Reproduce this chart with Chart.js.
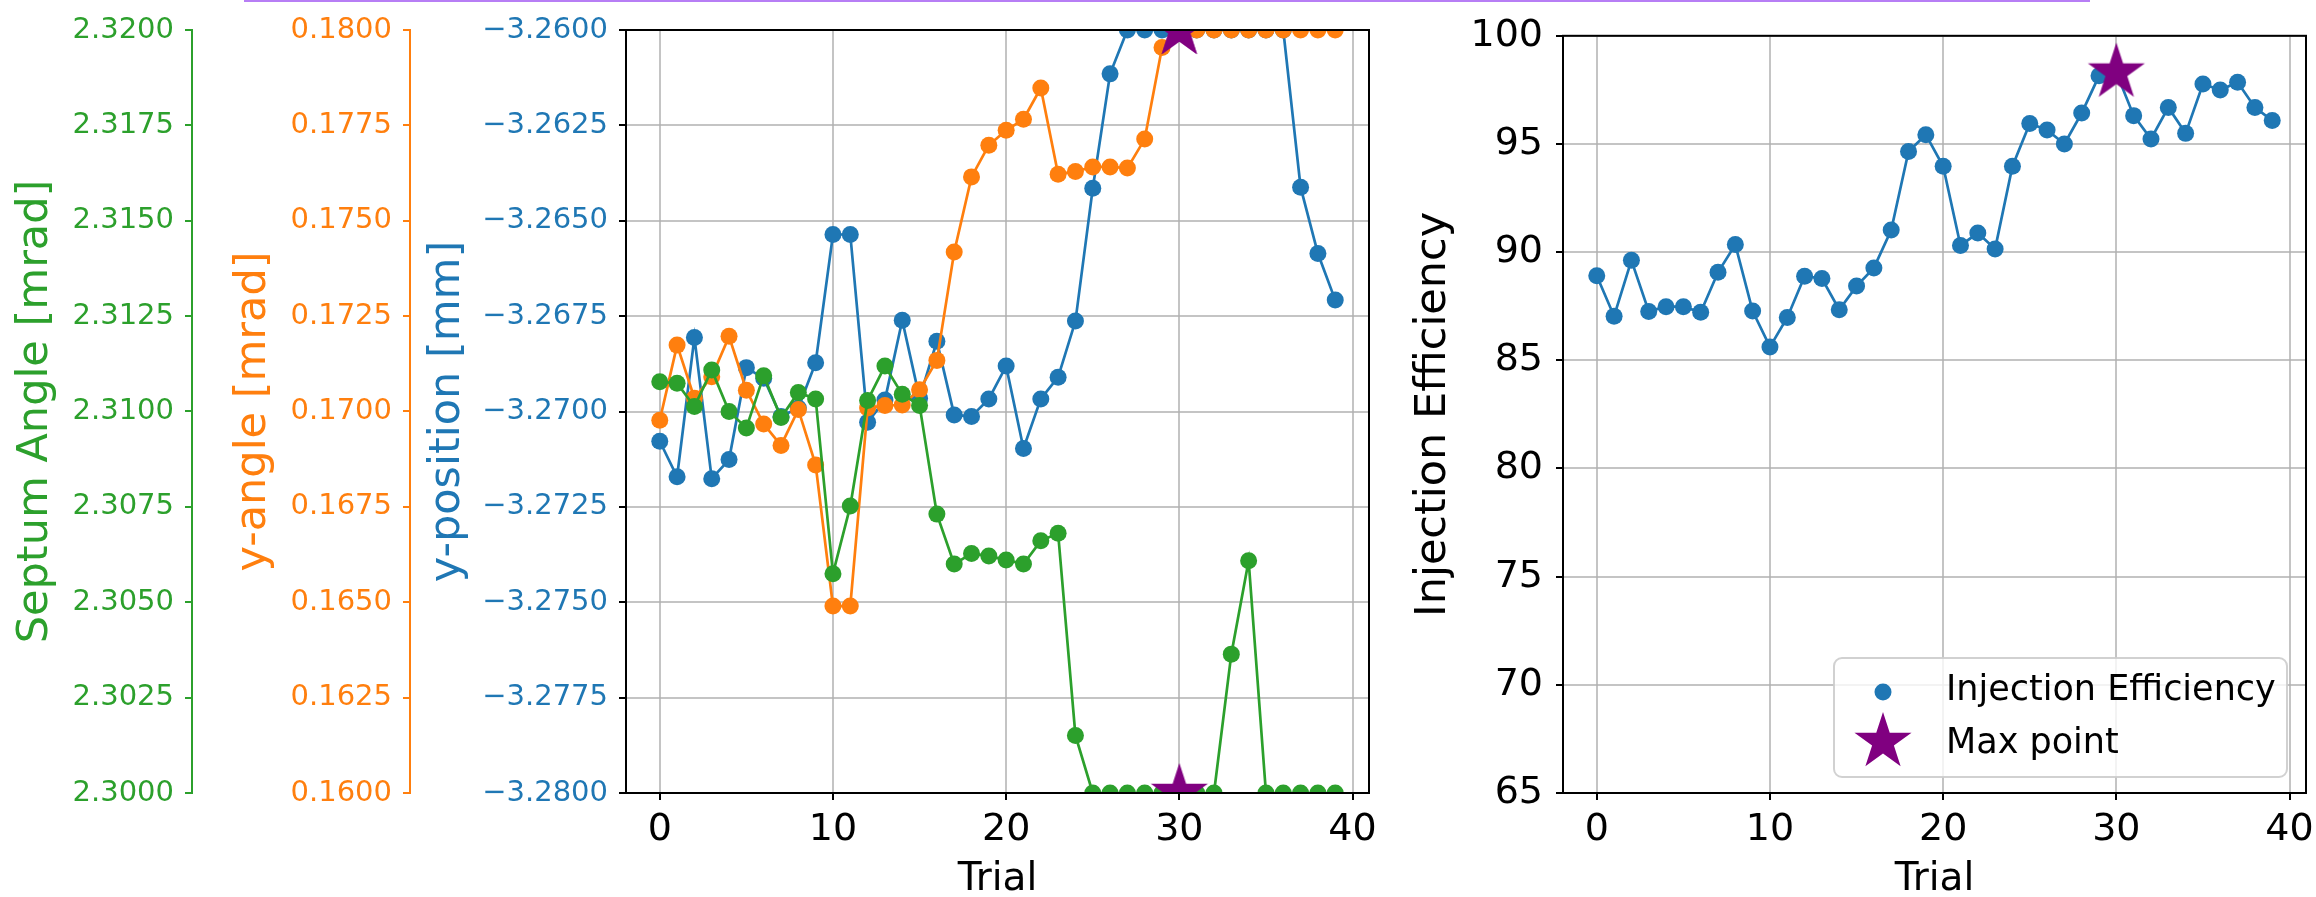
<!DOCTYPE html>
<html>
<head>
<meta charset="utf-8">
<script src="https://cdn.jsdelivr.net/npm/chart.js@4.4.0/dist/chart.umd.min.js"></script>
<style>
  html, body { margin: 0; padding: 0; background: #fff; }
  body { width: 2316px; height: 897px; overflow: hidden; position: relative; }
  #leftChart { position: absolute; left: 0; top: 0; }
  #rightChart { position: absolute; left: 1380px; top: 0; }
  #topLine { position: absolute; left: 244px; top: 0; width: 1846px; height: 2px; background: #b77ef5; }
</style>
</head>
<body>
<canvas id="leftChart" width="1400" height="910"></canvas>
<canvas id="rightChart" width="956" height="910"></canvas>
<div id="topLine"></div>
<script>
// --- values ---
const trials = [0, 1, 2, 3, 4, 5, 6, 7, 8, 9, 10, 11, 12, 13, 14, 15, 16, 17, 18, 19,
                20, 21, 22, 23, 24, 25, 26, 27, 28, 29, 30, 31, 32, 33, 34, 35, 36, 37, 38, 39];

const yPosition = [-3.27078, -3.27171, -3.26806, -3.27176, -3.27126, -3.26885, -3.26913, -3.27013, -3.26991, -3.26872,
                   -3.26536, -3.26536, -3.27028, -3.26970, -3.26761, -3.26965, -3.26816, -3.27009, -3.27013, -3.26967,
                   -3.26881, -3.27097, -3.26967, -3.26910, -3.26763, -3.26415, -3.26115, -3.26, -3.26, -3.26,
                   -3.26, -3.26, -3.26, -3.26, -3.26, -3.26, -3.26, -3.26412, -3.26586, -3.26708];

const yAngle = [0.16977, 0.17174, 0.17035, 0.17091, 0.17197, 0.17056, 0.16967, 0.16911, 0.17005, 0.16860,
                0.16490, 0.16490, 0.17009, 0.17016, 0.17017, 0.17057, 0.17134, 0.17418, 0.17615, 0.17698,
                0.17737, 0.17766, 0.17848, 0.17622, 0.17629, 0.17641, 0.17641, 0.17638, 0.17714, 0.17954,
                0.18, 0.18, 0.18, 0.18, 0.18, 0.18, 0.18, 0.18, 0.18, 0.18];

const septumAngle = [2.31078, 2.31074, 2.31013, 2.31109, 2.31000, 2.30957, 2.31094, 2.30984, 2.31050, 2.31033,
                     2.30575, 2.30752, 2.31029, 2.31119, 2.31045, 2.31016, 2.30731, 2.30600, 2.30628, 2.30621,
                     2.30611, 2.30600, 2.30661, 2.30681, 2.30151, 2.30, 2.30, 2.30, 2.30, 2.30,
                     2.30, 2.30, 2.30, 2.30364, 2.30609, 2.30, 2.30, 2.30, 2.30, 2.30];

const injEfficiency = [88.91, 87.04, 89.62, 87.26, 87.48, 87.48, 87.22, 89.07, 90.35, 87.28,
                       85.62, 86.98, 88.89, 88.78, 87.34, 88.43, 89.27, 91.02, 94.65, 95.43,
                       93.97, 90.31, 90.88, 90.15, 93.97, 95.95, 95.65, 95.00, 96.43, 98.15,
                       98.30, 96.31, 95.23, 96.69, 95.49, 97.77, 97.49, 97.85, 96.69, 96.08];

// best trial
const maxTrial = 30;
const maxPosition = -3.26;
const maxAngle = 0.18;
const maxSeptum = 2.30;
const maxEfficiency = 98.3;

const trialTicks = [0, 10, 20, 30, 40];
const positionTicks = [-3.28, -3.2775, -3.275, -3.2725, -3.27, -3.2675, -3.265, -3.2625, -3.26];
const angleTicks = [0.16, 0.1625, 0.165, 0.1675, 0.17, 0.1725, 0.175, 0.1775, 0.18];
const septumTicks = [2.30, 2.3025, 2.305, 2.3075, 2.31, 2.3125, 2.315, 2.3175, 2.32];
const efficiencyTicks = [65, 70, 75, 80, 85, 90, 95, 100];

const legendLabels = ['Injection Efficiency', 'Max point'];

// --- styles ---
const BLUE = '#1f77b4', ORANGE = '#ff7f0e', GREEN = '#2ca02c', PURPLE = '#800080';
const GRID = 'rgba(176,176,176,0.75)';
const CANVAS_H = 910, AREA_BOTTOM = 793;

Chart.defaults.font.family = "'DejaVu Sans', sans-serif";

function pts(ys) {
    return trials.map((t, i) => ({ x: t, y: ys[i] }));
}

function fixedTicks(list) {
    return scale => { scale.ticks = list.map(v => ({ value: v })); };
}

function fmt4(v) {
    return v.toFixed(4).replace('-', '\u2212');
}

// filled 5 point star like matplotlib's '*'
function makeStar(r, color) {
    const c = document.createElement('canvas');
    const s = Math.ceil(r * 2 + 4);
    c.width = s; c.height = s;
    const g = c.getContext('2d');
    g.fillStyle = color;
    g.beginPath();
    for (let k = 0; k < 10; k++) {
        const rad = k % 2 ? r * 0.381966 : r;
        const a = -Math.PI / 2 + k * Math.PI / 5;
        const px = s / 2 + rad * Math.cos(a), py = s / 2 + rad * Math.sin(a);
        if (k) g.lineTo(px, py); else g.moveTo(px, py);
    }
    g.closePath();
    g.fill();
    return c;
}
const star = makeStar(30, PURPLE);

const frame = {
    id: 'frame',
    afterDatasetsDraw(chart) {
        const { ctx, chartArea: a } = chart;
        ctx.save();
        ctx.strokeStyle = '#000';
        ctx.lineWidth = 2;
        ctx.strokeRect(a.left, a.top, a.right - a.left, a.bottom - a.top);
        ctx.restore();
    }
};

function xScale() {
    return {
        type: 'linear', position: 'bottom', min: -1.95, max: 40.95,
        afterBuildTicks: fixedTicks(trialTicks),
        afterFit: s => { s.height = CANVAS_H - AREA_BOTTOM; },
        grid: { color: GRID, lineWidth: 2, tickColor: '#000', tickLength: 7, tickWidth: 2 },
        border: { color: '#000', width: 2 },
        ticks: { color: '#000', font: { size: 38 }, padding: 7, maxRotation: 0, autoSkip: false },
        title: { display: true, text: 'Trial', color: '#000', font: { size: 39 }, padding: { top: 0, bottom: 7 } }
    };
}

function sideAxis(color, min, max, list, title, width, titlePad, weight, onArea) {
    return {
        type: 'linear', position: 'left', min: min, max: max, weight: weight,
        afterBuildTicks: fixedTicks(list),
        afterFit: s => { s.width = width; },
        grid: {
            drawOnChartArea: onArea, color: GRID, lineWidth: 2,
            tickColor: onArea ? '#000' : color, tickLength: 7, tickWidth: 2
        },
        border: { color: onArea ? '#000' : color, width: 2 },
        ticks: { color: color, font: { size: 29 }, padding: 11, autoSkip: false, callback: v => fmt4(v) },
        title: { display: true, text: title, color: color, font: { size: 43 }, padding: { top: titlePad, bottom: 0 } }
    };
}

function line(label, ys, axis, color, order) {
    return {
        label: label, data: pts(ys), yAxisID: axis, order: order, clip: 0,
        borderColor: color, backgroundColor: color, borderWidth: 2.7,
        pointRadius: 8.5, pointBorderWidth: 0, tension: 0
    };
}

function starPoint(y, axis) {
    return {
        label: 'Max point', data: [{ x: maxTrial, y: y }], yAxisID: axis, order: 0, clip: 0,
        showLine: false, pointStyle: star, pointRadius: 30, pointBorderWidth: 0
    };
}

// --- left: parameters ---
new Chart(document.getElementById('leftChart'), {
    type: 'line',
    data: {
        datasets: [
            starPoint(maxPosition, 'yPos'),
            starPoint(maxAngle, 'yAngle'),
            starPoint(maxSeptum, 'ySeptum'),
            line('Septum Angle', septumAngle, 'ySeptum', GREEN, 1),
            line('y-angle', yAngle, 'yAngle', ORANGE, 2),
            line('y-position', yPosition, 'yPos', BLUE, 3)
        ]
    },
    options: {
        responsive: false, animation: false, events: [],
        layout: { padding: { left: 0, right: 31, top: 25, bottom: 0 } },
        plugins: { legend: { display: false }, tooltip: { enabled: false } },
        scales: {
            x: xScale(),
            yPos: sideAxis(BLUE, -3.28, -3.26, positionTicks, 'y-position [mm]', 216, 12, 1, true),
            yAngle: sideAxis(ORANGE, 0.16, 0.18, angleTicks, 'y-angle [mrad]', 218, 36, 2, false),
            ySeptum: sideAxis(GREEN, 2.30, 2.32, septumTicks, 'Septum Angle [mrad]', 192, 10, 3, false)
        }
    },
    plugins: [frame]
});

// legend drawn inside the plot, lower right
const legendBox = {
    id: 'legendBox',
    afterDraw(chart) {
        const { ctx, chartArea: a } = chart;
        const x0 = a.right - 472, y0 = a.bottom - 135, w = 453, h = 119;
        ctx.save();
        ctx.beginPath();
        ctx.roundRect(x0, y0, w, h, 8);
        ctx.fillStyle = 'rgba(255,255,255,0.8)';
        ctx.fill();
        ctx.strokeStyle = 'rgba(204,204,204,0.9)';
        ctx.lineWidth = 2;
        ctx.stroke();

        ctx.fillStyle = BLUE;
        ctx.beginPath();
        ctx.arc(x0 + 49, y0 + 34, 8.5, 0, Math.PI * 2);
        ctx.fill();
        ctx.drawImage(star, x0 + 49 - star.width / 2, y0 + 84 - star.height / 2);

        ctx.fillStyle = '#000';
        ctx.font = "35px 'DejaVu Sans'";
        ctx.textBaseline = 'alphabetic';
        ctx.fillText(legendLabels[0], x0 + 112, y0 + 42);
        ctx.fillText(legendLabels[1], x0 + 112, y0 + 95);
        ctx.restore();
    }
};

// --- right: efficiency ---
new Chart(document.getElementById('rightChart'), {
    type: 'line',
    data: {
        datasets: [
            {
                label: legendLabels[1], data: [{ x: maxTrial, y: maxEfficiency }], order: 0, clip: 0,
                showLine: false, pointStyle: star, pointRadius: 30, pointBorderWidth: 0
            },
            line(legendLabels[0], injEfficiency, 'y', BLUE, 1)
        ]
    },
    options: {
        responsive: false, animation: false, events: [],
        layout: { padding: { left: 0, right: 30, top: 25, bottom: 0 } },
        plugins: { legend: { display: false }, tooltip: { enabled: false } },
        scales: {
            x: xScale(),
            y: {
                type: 'linear', position: 'left', min: 65, max: 100,
                afterBuildTicks: fixedTicks(efficiencyTicks),
                afterFit: s => { s.width = 183; },
                grid: { color: GRID, lineWidth: 2, tickColor: '#000', tickLength: 7, tickWidth: 2 },
                border: { color: '#000', width: 2 },
                ticks: { color: '#000', font: { size: 38 }, padding: 13, autoSkip: false },
                title: { display: true, text: 'Injection Efficiency', color: '#000', font: { size: 43 }, padding: { top: 28, bottom: 0 } }
            }
        }
    },
    plugins: [frame, legendBox]
});
</script>
</body>
</html>
